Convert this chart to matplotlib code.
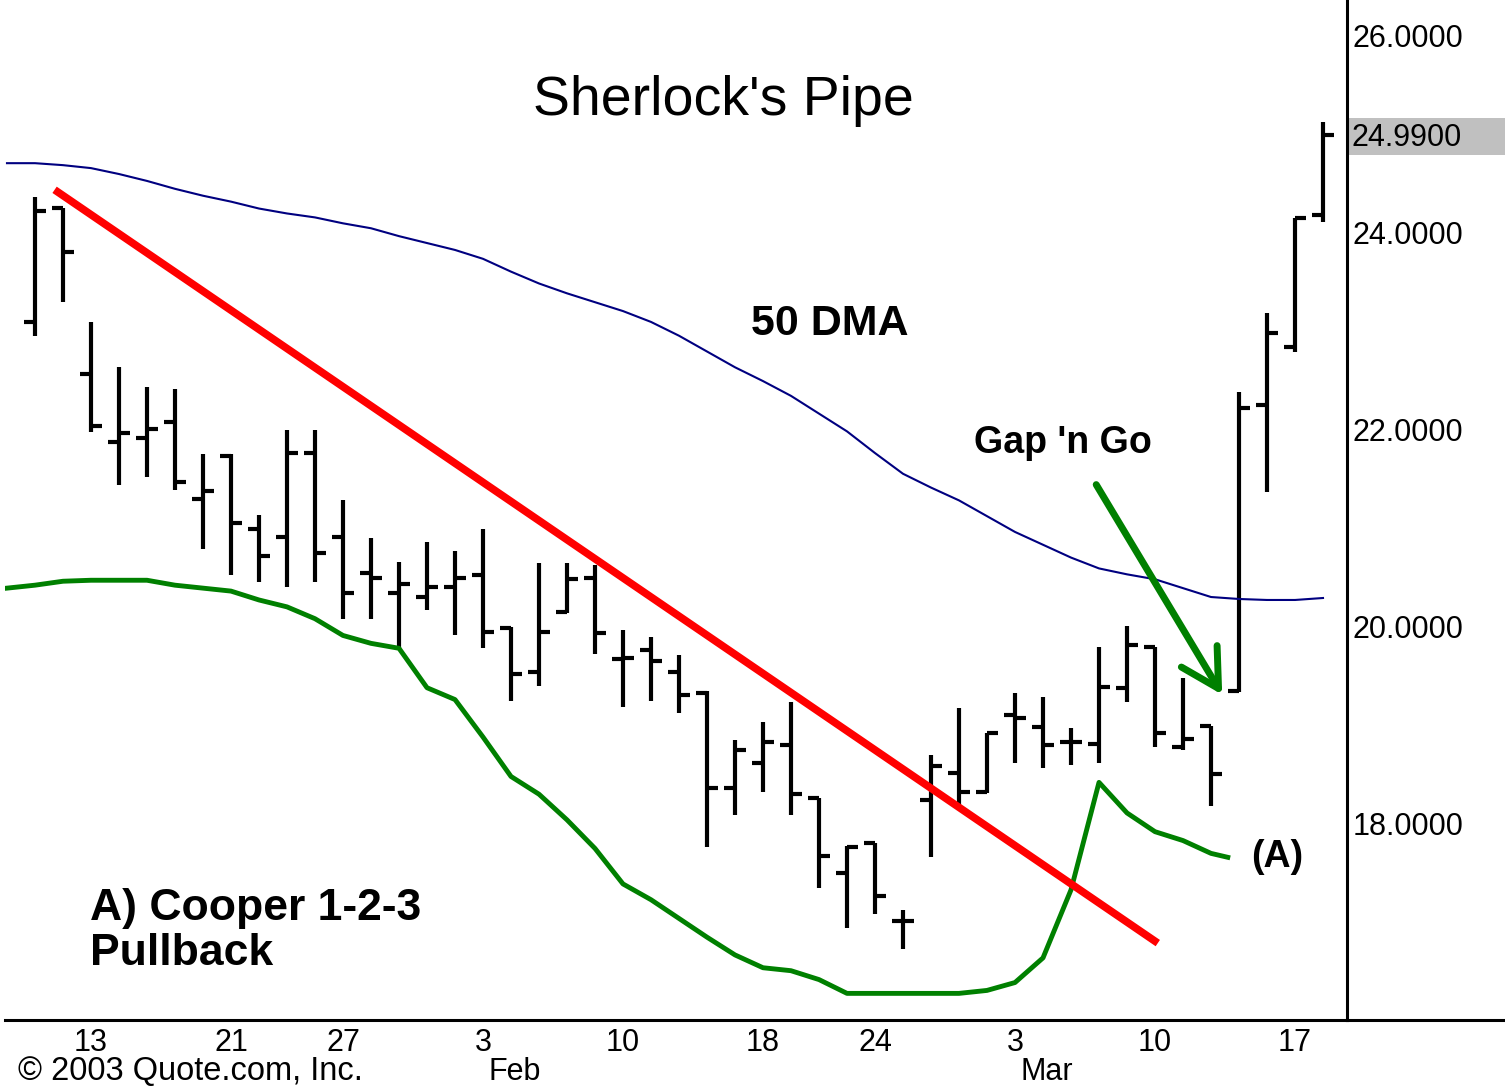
import numpy as np
import matplotlib
matplotlib.use('Agg')
import matplotlib.pyplot as plt
import matplotlib.transforms as mtransforms
from matplotlib.lines import Line2D
from matplotlib.patches import Rectangle

plt.rcParams['font.family'] = ['Liberation Sans', 'DejaVu Sans']

# Daily OHLC bars, 9 Jan .. 18 Mar 2003 (trading days only, index 0..46)
opens = [23.09, 24.25, 22.56, 21.87, 21.91, 22.07, 21.29, 21.73, 20.99, 20.91,
         21.76, 20.91, 20.54, 20.34, 20.30, 20.40, 20.52, 19.99, 19.54, 20.15,
         20.49, 19.67, 19.76, 19.54, 19.33, 18.36, 18.62, 18.80, 18.26, 17.50,
         17.81, 17.01, 18.24, 18.52, 18.32, 19.10, 18.98, 18.83, 18.81, 19.38,
         19.79, 18.78, 18.99, 19.35, 22.25, 22.84, 24.17]
highs = [24.36, 24.25, 23.09, 22.63, 22.43, 22.41, 21.75, 21.75, 21.13, 21.99,
         21.99, 21.28, 20.90, 20.66, 20.86, 20.77, 20.99, 20.00, 20.64, 20.64,
         20.62, 19.97, 19.89, 19.71, 19.35, 18.85, 19.03, 19.24, 18.26, 17.77,
         17.81, 17.13, 18.70, 19.17, 18.92, 19.33, 19.29, 18.97, 19.79, 20.01,
         19.79, 19.48, 18.99, 22.38, 23.18, 24.14, 25.12]
lows = [22.95, 23.29, 21.97, 21.44, 21.52, 21.39, 20.79, 20.52, 20.45, 20.40,
        20.45, 20.08, 20.08, 19.78, 20.17, 19.91, 19.78, 19.25, 19.40, 20.14,
        19.72, 19.18, 19.25, 19.12, 17.76, 18.09, 18.32, 18.09, 17.35, 16.94,
        17.09, 16.73, 17.66, 18.19, 18.31, 18.62, 18.57, 18.60, 18.62, 19.24,
        18.78, 18.75, 18.18, 19.34, 21.37, 22.78, 24.10]
closes = [24.22, 23.80, 22.03, 21.96, 22.00, 21.47, 21.38, 21.05, 20.72, 21.76,
          20.75, 20.34, 20.49, 20.43, 20.40, 20.49, 19.95, 19.52, 19.95, 20.48,
          19.93, 19.68, 19.65, 19.31, 18.36, 18.75, 18.83, 18.30, 17.67, 17.76,
          17.27, 17.01, 18.59, 18.32, 18.92, 19.07, 18.80, 18.83, 19.39, 19.81,
          18.92, 18.86, 18.50, 22.22, 22.98, 24.14, 24.99]

# 50 day moving average, index -1..46
dma50 = [24.70, 24.70, 24.68, 24.65, 24.59, 24.52, 24.44, 24.37, 24.31, 24.24,
         24.19, 24.15, 24.09, 24.04, 23.96, 23.89, 23.82, 23.73, 23.60, 23.48,
         23.38, 23.29, 23.20, 23.09, 22.95, 22.79, 22.63, 22.49, 22.34, 22.16,
         21.98, 21.76, 21.55, 21.41, 21.28, 21.12, 20.96, 20.83, 20.70, 20.59,
         20.53, 20.48, 20.39, 20.30, 20.28, 20.27, 20.27, 20.29]

# green indicator line, index -1..42 plus end point
green_line = [20.39, 20.42, 20.46, 20.47, 20.47, 20.47, 20.42, 20.39, 20.36, 20.27,
              20.20, 20.08, 19.91, 19.83, 19.78, 19.38, 19.26, 18.88, 18.48, 18.30,
              18.04, 17.75, 17.39, 17.23, 17.04, 16.85, 16.67, 16.54, 16.51, 16.42,
              16.28, 16.28, 16.28, 16.28, 16.28, 16.31, 16.39, 16.64, 17.33, 18.42,
              18.11, 17.92, 17.83, 17.70, 17.66]

# red down trendline and "Gap 'n Go" arrow (day index, price)
trend_x = [0.7, 40.1]
trend_y = [24.43, 16.79]
arrow_from = (37.9, 21.44)
arrow_to = (42.4, 19.31)

tick_idx = [2, 7, 11, 16, 21, 26, 30, 35, 40, 45]
tick_labels = ['13', '21', '27', '3', '10', '18', '24', '3', '10', '17']
months = ['Feb', 'Mar']
month_idx = [16, 35]

price_ticks = [18, 20, 22, 24, 26]
last_price = closes[-1]

fig = plt.figure(figsize=(15.05, 10.88), dpi=100)
ax = fig.add_axes([5 / 1505, 68 / 1088, 1342 / 1505, 1020 / 1088])

x = np.arange(len(opens))
ax.vlines(x, lows, highs, color='black', linewidth=3)
ax.hlines(opens, x - 0.4, x, color='black', linewidth=3)
ax.hlines(closes, x, x + 0.4, color='black', linewidth=3)

ax.plot(np.arange(-1, len(dma50) - 1), dma50, color='#000080', linewidth=1.5)
gx = list(range(-1, len(green_line) - 2)) + [42.6]
ax.plot(gx, green_line, color='#008000', linewidth=3.5)
ax.plot(trend_x, trend_y, color='#ff0000', linewidth=5.5, solid_capstyle='butt')
ax.annotate('', xy=arrow_to, xytext=arrow_from,
            arrowprops=dict(arrowstyle='->,head_length=0.9,head_width=0.5',
                            color='#008000', lw=5, mutation_scale=30,
                            shrinkA=0, shrinkB=0))

# annotations
ax.text(24.6, 25.33, "Sherlock's Pipe", fontsize=40, ha='center', va='center')
ax.text(28.4, 23.07, '50 DMA', fontsize=31, fontweight='bold', ha='center', va='center')
ax.text(36.7, 21.86, "Gap 'n Go", fontsize=27, fontweight='bold', ha='center', va='center')
ax.text(44.36, 17.66, '(A)', fontsize=27, fontweight='bold', ha='center', va='center')
ax.text(1.96, 17.35, 'A) Cooper 1-2-3\nPullback', fontsize=32, fontweight='bold',
        ha='left', va='top', linespacing=1.12)

ax.set_xlim(-1.071, 46.857)
ax.set_ylim(16.01, 26.355)

ax.spines['top'].set_visible(False)
ax.spines['left'].set_visible(False)
ax.spines['bottom'].set_linewidth(2.2)
ax.spines['right'].set_linewidth(2.2)

ax.set_xticks(tick_idx)
ax.set_xticklabels(tick_labels, fontsize=22)
ax.tick_params(axis='x', length=0, pad=6)
ax.yaxis.tick_right()
ax.set_yticks(price_ticks)
ax.set_yticklabels([f'{p:.4f}' for p in price_ticks], fontsize=22)
ax.tick_params(axis='y', length=0, pad=4)

trans = mtransforms.blended_transform_factory(ax.transData, ax.transAxes)
for m, i in zip(months, month_idx):
    ax.text(i + 0.2, -0.051, m, transform=trans, fontsize=22, ha='left', va='center')

# highlight of last price on the scale
ftrans = mtransforms.blended_transform_factory(fig.transFigure, ax.transData)
ax.add_patch(Rectangle((1349 / 1505, last_price - 0.21), 1 - 1349 / 1505, 0.38,
                       transform=ftrans, facecolor='#c0c0c0', edgecolor='none',
                       clip_on=False, zorder=1))
ax.text(1.003, last_price - 0.03, f'{last_price:.4f}', transform=ax.get_yaxis_transform(),
        fontsize=22, ha='left', va='center', clip_on=False, zorder=5)

# bottom line runs under the price scale too
fig.add_artist(Line2D([1347 / 1505, 1], [68 / 1088, 68 / 1088], color='black',
                      linewidth=2.2))

fig.text(18 / 1505, 16 / 1088, '\u00a9 2003 Quote.com, Inc.', fontsize=23.5,
         ha='left', va='center')

fig.savefig('out.png', dpi=100)
